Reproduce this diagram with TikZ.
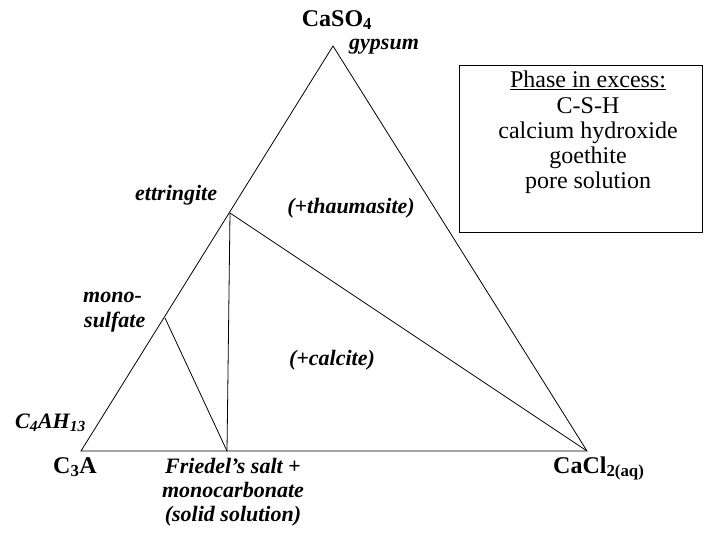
\documentclass[tikz,border=0pt]{standalone}
\usepackage{fontspec}
\setmainfont{Liberation Serif}
\begin{document}
\begin{tikzpicture}[x=1pt,y=-1pt,
  edge/.style={line width=0.8pt},
  vlabel/.style={font=\fontsize{24}{25}\selectfont\bfseries, inner sep=0pt},
  plabel/.style={font=\fontsize{22}{23}\selectfont\bfseries\itshape, inner sep=0pt},
  boxtext/.style={font=\fontsize{24}{25}\selectfont, inner sep=0pt, align=center}]
\useasboundingbox (0,0) rectangle (704,533);
\coordinate (A) at (81,451);
\coordinate (T) at (333,46);
\coordinate (B) at (587,451);
\coordinate (E) at (230,213);
\coordinate (M) at (165,318);
\coordinate (F) at (227,451);
\draw[edge] (A) -- (T) -- (B) -- cycle;
\draw[edge] (E) -- (B);
\draw[edge] (E) -- (F);
\draw[edge] (M) -- (F);
% vertex labels
\node[vlabel, anchor=base] (caso) at (337,26) {CaSO\textsubscript{4}};
\node[plabel, anchor=base west] (gyp) at (349,49) {gypsum};
\node[vlabel, anchor=base west] (c3a) at (53,473) {C\textsubscript{3}A};
\node[vlabel, anchor=base west] (cacl) at (553,473) {CaCl\textsubscript{2(aq)}};
% phase labels
\node[plabel, anchor=base west] (ett) at (135,200) {ettringite};
\node[plabel, anchor=base west] (mono) at (83,302) {mono-};
\node[plabel, anchor=base west] (sulf) at (84,327) {sulfate};
\node[plabel, anchor=base west] (c4ah) at (15,428) {C\textsubscript{4}AH\textsubscript{13}};
\node[plabel, anchor=base] (fr1) at (233,473) {Friedel’s salt +};
\node[plabel, anchor=base] (fr2) at (233,497) {monocarbonate};
\node[plabel, anchor=base] (fr3) at (233,521) {(solid solution)};
\node[plabel, anchor=base] (thau) at (351,213) {(+thaumasite)};
\node[plabel, anchor=base] (calc) at (332,365) {(+calcite)};
% legend box
\node[draw, line width=0.8pt, minimum width=243pt, minimum height=167pt, inner sep=0pt] (box) at (580.5,148.5) {};
\node[boxtext, anchor=base] (b1) at (588,87) {\underline{Phase in excess:}};
\node[boxtext, anchor=base] (b2) at (588,113) {C-S-H};
\node[boxtext, anchor=base] (b3) at (588,138) {calcium hydroxide};
\node[boxtext, anchor=base] (b4) at (588,163) {goethite};
\node[boxtext, anchor=base] (b5) at (588,188) {pore solution};
\end{tikzpicture}
\end{document}
